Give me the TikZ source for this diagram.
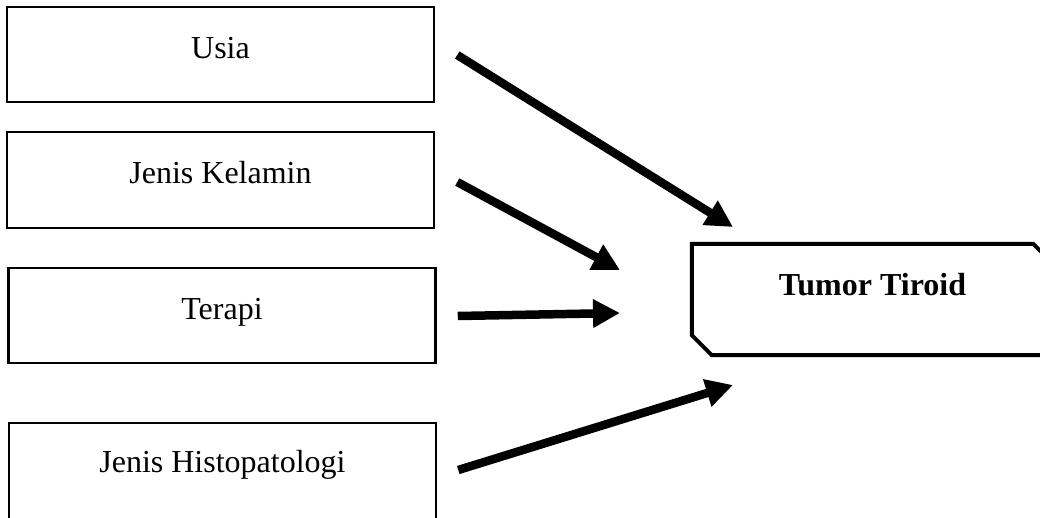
\documentclass[tikz,border=0pt]{standalone}
\usepackage{fontspec}
\setmainfont{Liberation Serif}
\usetikzlibrary{arrows.meta,calc}
\tikzset{
  box/.style={draw, line width=2.5pt, minimum width=427pt, inner sep=0pt,
    text height=51pt, text depth=44pt, font=\fontsize{32}{38}\selectfont},
  arr/.style={line width=8.5pt, -{Triangle[length=27pt,width=27pt]}},
  tumor/.style={line width=4pt, line join=miter}
}
\begin{document}
\begin{tikzpicture}[x=1pt,y=-1pt]
\useasboundingbox (0,0) rectangle (1040,517);
\node[box] (usia) at (220.5,54.5) {Usia};
\node[box, text depth=45pt] (jk) at (220.5,180) {Jenis Kelamin};
\node[box] (terapi) at (222,315.5) {Terapi};
\node[box, text height=49pt, text depth=47pt] (histo) at (222.5,471) {Jenis Histopatologi};
\node[inner sep=0pt, minimum width=361pt, text height=51pt, text depth=60pt,
  font=\fontsize{32}{38}\selectfont\bfseries] (tt) at (872.5,299.5) {Tumor Tiroid};
\draw[tumor] (tt.north west) -- ($(tt.north east)+(-20,0)$) -- ($(tt.north east)+(0,20)$)
  -- (tt.south east) -- ($(tt.south west)+(20,0)$) -- ($(tt.south west)+(0,-20)$) -- cycle;
\coordinate (s1) at ($(usia.east)+(22,0.5)$);
\coordinate (e1) at (733,227);
\coordinate (s2) at ($(jk.east)+(22,2)$);
\coordinate (e2) at (620,270);
\coordinate (s3) at ($(terapi.east)+(21,0.5)$);
\coordinate (e3) at (620,313);
\coordinate (s4) at ($(histo.east)+(21,-1)$);
\coordinate (e4) at (733,385);
\draw[arr] (s1) -- (e1);
\draw[arr] (s2) -- (e2);
\draw[arr] (s3) -- (e3);
\draw[arr] (s4) -- (e4);
\end{tikzpicture}
\end{document}
